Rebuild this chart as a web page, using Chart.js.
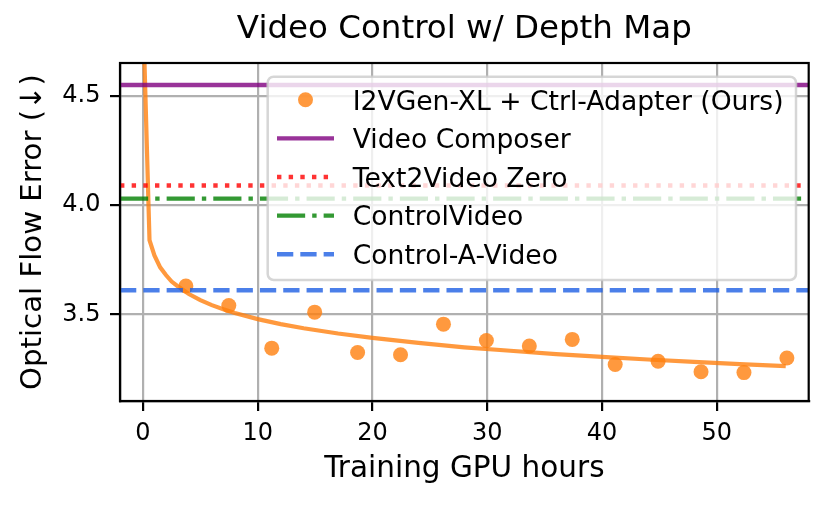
<!DOCTYPE html>
<html>
<head>
<meta charset="utf-8">
<script src="https://cdn.jsdelivr.net/npm/chart.js@4/dist/chart.umd.min.js"></script>
<style>html,body{margin:0;padding:0;background:#fff;}canvas{display:block;}</style>
</head>
<body>
<canvas id="c" width="829" height="507"></canvas>
<script>
// ---- data ----
const gpuHours = [3.74, 7.48, 11.22, 14.96, 18.7, 22.44, 26.18, 29.92, 33.66, 37.4, 41.14, 44.88, 48.62, 52.36, 56.1];
const oursError = [3.63, 3.54, 3.345, 3.51, 3.325, 3.315, 3.455, 3.38, 3.355, 3.385, 3.27, 3.285, 3.237, 3.233, 3.30];
const fitHours = [0, 0.57, 1.0, 1.5, 2.0, 2.5, 3.0, 4.0, 5.0, 6.0, 7.0, 8.0, 10, 12, 14, 17, 20, 24, 28, 32, 36, 40, 44, 48, 52, 56];
const fitError = [4.90, 3.84, 3.77, 3.715, 3.68, 3.65, 3.63, 3.593, 3.565, 3.542, 3.523, 3.506, 3.478, 3.455, 3.436, 3.412, 3.392, 3.369, 3.349, 3.333, 3.318, 3.305, 3.293, 3.282, 3.272, 3.263];
const baselineNames = ['Video Composer', 'Text2Video Zero', 'ControlVideo', 'Control-A-Video'];
const baselineValues = [4.55, 4.09, 4.03, 3.61];
const oursLabel = 'I2VGen-XL + Ctrl-Adapter (Ours)';
const xTickValues = [0, 10, 20, 30, 40, 50];
const yTickValues = [3.5, 4.0, 4.5];
const xRange = [-2, 58];
const yRange = [3.103, 4.651];

// ---- styles ----
const LW = 4.4;
const baselineStyles = [
  {color: 'rgba(128,0,128,0.8)', dash: []},
  {color: 'rgba(255,0,0,0.8)', dash: [LW, 1.65 * LW]},
  {color: 'rgba(0,128,0,0.8)', dash: [6.4 * LW, 1.6 * LW, LW, 1.6 * LW]},
  {color: 'rgba(30,95,228,0.8)', dash: [3.7 * LW, 1.6 * LW]}
];
const ORANGE = 'rgba(255,127,14,0.8)';
const FONT = 'DejaVu Sans';

const datasets = [];
baselineNames.forEach((name, i) => {
  datasets.push({
    type: 'scatter', label: name, showLine: true,
    data: xRange.map(x => ({x: x, y: baselineValues[i]})),
    borderColor: baselineStyles[i].color, borderWidth: LW,
    borderDash: baselineStyles[i].dash, borderCapStyle: 'butt',
    pointRadius: 0, pointHoverRadius: 0, order: 2, inLegend: true, legendIndex: i + 1
  });
});
datasets.push({
  type: 'scatter', label: 'fit', showLine: true,
  data: fitHours.map((x, i) => ({x: x, y: fitError[i]})),
  borderColor: ORANGE, borderWidth: 4.2, pointRadius: 0, pointHoverRadius: 0,
  tension: 0, order: 2, inLegend: false
});
datasets.push({
  type: 'scatter', label: oursLabel,
  data: gpuHours.map((x, i) => ({x: x, y: oursError[i]})),
  backgroundColor: ORANGE, borderWidth: 0, pointRadius: 7.5, pointHoverRadius: 7.5,
  order: 5, inLegend: true, legendIndex: 0, isMarker: true
});

const bgPlugin = {
  id: 'bg',
  beforeDraw(chart) {
    const ctx = chart.ctx;
    ctx.save(); ctx.fillStyle = '#fff';
    ctx.fillRect(0, 0, chart.width, chart.height); ctx.restore();
  }
};

const framePlugin = {
  id: 'frameAndLegend',
  afterDatasetsDraw(chart) {
    const ctx = chart.ctx, a = chart.chartArea;
    ctx.save();
    ctx.strokeStyle = '#000'; ctx.lineWidth = 2.2; ctx.setLineDash([]);
    ctx.strokeRect(a.left, a.top, a.right - a.left, a.bottom - a.top);

    // legend box (upper right)
    const bx = a.left + 147.7, by = a.top + 13.7;
    const bw = a.right - 12.7 - bx, bh = 203.3, r = 6;
    ctx.beginPath();
    ctx.moveTo(bx + r, by);
    ctx.lineTo(bx + bw - r, by); ctx.arcTo(bx + bw, by, bx + bw, by + r, r);
    ctx.lineTo(bx + bw, by + bh - r); ctx.arcTo(bx + bw, by + bh, bx + bw - r, by + bh, r);
    ctx.lineTo(bx + r, by + bh); ctx.arcTo(bx, by + bh, bx, by + bh - r, r);
    ctx.lineTo(bx, by + r); ctx.arcTo(bx, by, bx + r, by, r);
    ctx.closePath();
    ctx.fillStyle = 'rgba(255,255,255,0.8)'; ctx.fill();
    ctx.strokeStyle = 'rgba(204,204,204,0.8)'; ctx.lineWidth = 2.5; ctx.stroke();

    const items = chart.data.datasets.filter(d => d.inLegend)
      .sort((p, q) => p.legendIndex - q.legendIndex);
    const h0 = bx + 9.3, h1 = bx + 66.3, tx = bx + 85;
    items.forEach((d, i) => {
      const cy = by + 23.1 + i * 38.6;
      if (d.isMarker) {
        ctx.beginPath(); ctx.arc((h0 + h1) / 2, cy, d.pointRadius, 0, Math.PI * 2);
        ctx.fillStyle = d.backgroundColor; ctx.fill();
      } else {
        ctx.beginPath(); ctx.moveTo(h0, cy); ctx.lineTo(h1, cy);
        ctx.strokeStyle = d.borderColor; ctx.lineWidth = d.borderWidth;
        ctx.lineCap = 'butt'; ctx.setLineDash(d.borderDash || []); ctx.stroke();
        ctx.setLineDash([]);
      }
      ctx.fillStyle = '#000'; ctx.font = '26.6px "' + FONT + '"';
      ctx.textAlign = 'left'; ctx.textBaseline = 'alphabetic';
      ctx.fillText(d.label, tx, cy + 9.7);
    });
    ctx.restore();
  }
};

new Chart(document.getElementById('c'), {
  type: 'scatter',
  data: {datasets: datasets},
  plugins: [bgPlugin, framePlugin],
  options: {
    responsive: false, animation: false, devicePixelRatio: 1,
    layout: {padding: {left: 0, right: 20.3, top: 0, bottom: 0}},
    plugins: {
      legend: {display: false}, tooltip: {enabled: false},
      title: {
        display: true, text: 'Video Control w/ Depth Map', color: '#000',
        fullSize: false,
        font: {family: FONT, size: 32.5, weight: 'normal', lineHeight: 1.2},
        padding: {top: 9.8, bottom: 14.2}
      }
    },
    scales: {
      x: {
        type: 'linear', min: xRange[0], max: xRange[1],
        afterBuildTicks(s) { s.ticks = xTickValues.map(v => ({value: v})); },
        afterFit(s) { s.height = 106; },
        ticks: {color: '#000', font: {family: FONT, size: 24}, padding: 8,
                maxRotation: 0, autoSkip: false, callback: v => String(v)},
        grid: {color: '#b0b0b0', lineWidth: 2.2, tickColor: '#000', tickLength: 10, tickWidth: 2.2, drawTicks: true},
        border: {display: true, color: '#000', width: 2.2},
        title: {display: true, text: 'Training GPU hours', color: '#000',
                font: {family: FONT, size: 29.5, lineHeight: 1.2}, padding: {top: 0, bottom: 19.5}}
      },
      y: {
        type: 'linear', min: yRange[0], max: yRange[1],
        afterBuildTicks(s) { s.ticks = yTickValues.map(v => ({value: v})); },
        afterFit(s) { s.width = 120; },
        ticks: {color: '#000', font: {family: FONT, size: 24}, padding: 9.6,
                autoSkip: false, callback: v => Number(v).toFixed(1)},
        grid: {color: '#b0b0b0', lineWidth: 2.2, tickColor: '#000', tickLength: 10, tickWidth: 2.2, drawTicks: true},
        border: {display: true, color: '#000', width: 2.2},
        title: {display: true, text: 'Optical Flow Error (↓)', color: '#000',
                font: {family: FONT, size: 29.2, lineHeight: 1.2}, padding: {top: 15.8, bottom: 0}}
      }
    }
  }
});
</script>
</body>
</html>
